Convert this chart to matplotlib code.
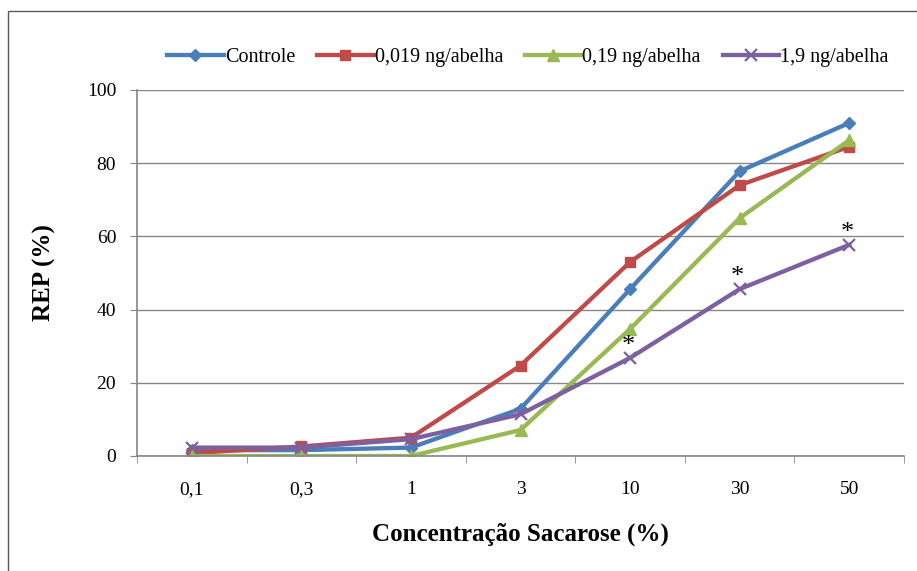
import matplotlib.pyplot as plt
from matplotlib.patches import Rectangle

plt.rcParams['font.family'] = ['Liberation Serif', 'DejaVu Serif']

concentracoes = ["0,1", "0,3", "1", "3", "10", "30", "50"]
controle = [1.6, 1.6, 2.3, 12.9, 45.6, 77.8, 91.0]
dose_0019 = [0.8, 2.6, 5.0, 24.7, 53.0, 74.0, 84.5]
dose_019 = [0.0, 0.0, 0.0, 7.1, 34.7, 65.0, 86.3]
dose_19 = [2.3, 2.3, 4.6, 11.4, 26.8, 45.6, 57.7]
# pontos com diferença significativa (1,9 ng/abelha)
signif = [4, 5, 6]

series = [
    ("Controle", controle, "#4A7EBB", "D", 6.5),
    ("0,019 ng/abelha", dose_0019, "#BE4B48", "s", 6.5),
    ("0,19 ng/abelha", dose_019, "#98B954", "^", 8.5),
    ("1,9 ng/abelha", dose_19, "#7D60A0", "x", 8.5),
]

W, H = 917, 571
fig = plt.figure(figsize=(W / 100, H / 100), dpi=100)
ax = fig.add_axes([137 / W, 1 - 456 / H, 767 / W, 366 / H])

# borda da área do gráfico (direita e base ficam fora da imagem)
fig.patches.append(Rectangle((7.5 / W, -0.05), 1.0, 1.05 - 10.5 / H,
                             transform=fig.transFigure, fill=False,
                             edgecolor="#595959", linewidth=1.0))

x = range(len(concentracoes))
for nome, vals, cor, mk, ms in series:
    kw = dict(markeredgewidth=1.6) if mk == "x" else dict(markeredgecolor=cor)
    ax.plot(x, vals, color=cor, linewidth=3.1, marker=mk, markersize=ms,
            label=nome, **kw)

for i in signif:
    ax.text(i - 0.02, dose_19[i] + 1.6, "*", ha="center", va="baseline",
            fontsize=19)

ax.set_xlim(-0.5, len(concentracoes) - 0.5)
ax.set_ylim(0, 100)
ax.set_yticks(range(0, 101, 20))
ax.set_xticks(x)
ax.set_xticklabels(concentracoes)
ax.set_xticks([i + 0.5 for i in range(-1, len(concentracoes))], minor=True)
ax.tick_params(axis="x", which="major", length=0, pad=18, labelsize=14)
ax.tick_params(axis="x", which="minor", length=5, color="#868686")
ax.tick_params(axis="y", length=5, color="#868686", labelsize=14, pad=10)

ax.grid(axis="y", color="#868686", linewidth=1)
ax.set_axisbelow(True)
for s in ["top", "right"]:
    ax.spines[s].set_visible(False)
for s in ["left", "bottom"]:
    ax.spines[s].set_color("#868686")
    ax.spines[s].set_linewidth(1.2)

ax.set_xlabel("Concentração Sacarose (%)", fontsize=18, fontweight="bold",
              labelpad=18)
ax.set_ylabel("REP (%)", fontsize=18, fontweight="bold", labelpad=22)

fig.legend(*ax.get_legend_handles_labels(), loc="center",
           bbox_to_anchor=(528 / W, 1 - 57 / H), ncol=4, frameon=False,
           fontsize=14.5, handlelength=2.8, columnspacing=1.1,
           handletextpad=0.05)

fig.savefig("out.png", dpi=100)
